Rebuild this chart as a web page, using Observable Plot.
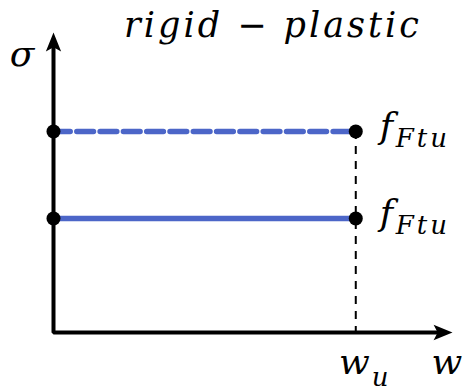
<!DOCTYPE html>
<html>
<head>
<meta charset="utf-8">
<script src="https://cdn.jsdelivr.net/npm/d3@7"></script>
<script src="https://cdn.jsdelivr.net/npm/@observablehq/plot@0.6"></script>
<style>
  html, body { margin: 0; padding: 0; background: #fff; }
</style>
</head>
<body>
<div id="chart"></div>
<script>
// Rigid-plastic constitutive law: stress σ against crack opening w.
// The stress stays at f_Ftu from w = 0 up to the ultimate opening w_u.
const wValues = [0, 1];            // w = 0 and w = w_u
const wU = 1;
const sigmaSolid = 1.14;           // f_Ftu (solid)
const sigmaDashed = 2.01;          // f_Ftu (dashed)
const xDomain = [0, 1.32];
const yDomain = [0, 3];
const mainLabel = "f";
const subLabel = "Ftu";
const titleText = "rigid \u2212 plastic";

const blue = "#4c66c8";
const mathFont = "DejaVu Serif";

const solid = wValues.map(w => ({w, s: sigmaSolid}));
const dashed = wValues.map(w => ({w, s: sigmaDashed}));
const points = [...dashed, ...solid];

// axis polyline (L-shape) ending just below each arrow tip
const axisPath = [
  {w: 0, s: yDomain[1] * 0.96},
  {w: 0, s: 0},
  {w: xDomain[1] * 0.97, s: 0}
];

// stealth-style arrowhead, tip at the origin, pointing up
const arrowHead = {
  draw(context, size) {
    const r = Math.sqrt(size / Math.PI);
    context.moveTo(0, 0);
    context.lineTo(0.85 * r, 2.1 * r);
    context.lineTo(0, 1.65 * r);
    context.lineTo(-0.85 * r, 2.1 * r);
    context.closePath();
  }
};

const chart = Plot.plot({
  width: 470,
  height: 390,
  marginLeft: 53,
  marginRight: 18,
  marginTop: 32,
  marginBottom: 58,
  x: {domain: xDomain, axis: null},
  y: {domain: yDomain, axis: null},
  style: {fontFamily: mathFont, letterSpacing: "3px", background: "#fff"},
  marks: [
    Plot.line(axisPath, {x: "w", y: "s", stroke: "black", strokeWidth: 4, strokeLinejoin: "miter", curve: "linear"}),
    Plot.dot([{w: 0, s: yDomain[1]}], {x: "w", y: "s", r: 9, symbol: arrowHead, fill: "black", stroke: "none"}),
    Plot.dot([{w: xDomain[1], s: 0}], {x: "w", y: "s", r: 9, symbol: arrowHead, rotate: 90, fill: "black", stroke: "none"}),
    Plot.ruleX([wU], {x: d => d, y1: sigmaDashed, y2: 0, stroke: "black", strokeWidth: 2, strokeDasharray: "8,7"}),
    Plot.line(dashed, {x: "w", y: "s", stroke: blue, strokeWidth: 5.5, strokeDasharray: "16.7,6.6"}),
    Plot.line(solid, {x: "w", y: "s", stroke: blue, strokeWidth: 5.5}),
    Plot.dot(points, {x: "w", y: "s", r: 7, fill: "black", stroke: "none"}),
    // f_Ftu labels at the right end of both lines
    Plot.text([sigmaDashed, sigmaSolid], {x: wU, y: d => d, text: () => mainLabel, dx: 24, dy: 6, textAnchor: "start", lineAnchor: "bottom", fontSize: 36, fontStyle: "italic"}),
    Plot.text([sigmaDashed, sigmaSolid], {x: wU, y: d => d, text: () => subLabel, dx: 40, dy: 15, textAnchor: "start", lineAnchor: "bottom", fontSize: 26, fontStyle: "italic"}),
    // axis labels
    Plot.text([{w: 0, s: yDomain[1]}], {x: "w", y: "s", text: () => "\u03c3", dx: -30, dy: 33, textAnchor: "middle", lineAnchor: "bottom", fontSize: 36, fontStyle: "italic"}),
    Plot.text([{w: xDomain[1], s: 0}], {x: "w", y: "s", text: () => "w", dx: -4, dy: 41, textAnchor: "middle", lineAnchor: "bottom", fontSize: 36, fontStyle: "italic"}),
    Plot.text([{w: wU, s: 0}], {x: "w", y: "s", text: () => "w", dx: 17, dy: 41, textAnchor: "end", lineAnchor: "bottom", fontSize: 36, fontStyle: "italic"}),
    Plot.text([{w: wU, s: 0}], {x: "w", y: "s", text: () => "u", dx: 16, dy: 53, textAnchor: "start", lineAnchor: "bottom", fontSize: 26, fontStyle: "italic"}),
    // title
    Plot.text([titleText], {frameAnchor: "top", text: d => d, dx: 20, dy: 4, textAnchor: "middle", lineAnchor: "bottom", fontSize: 35, fontStyle: "italic"})
  ]
});

document.getElementById("chart").appendChild(chart);
</script>
</body>
</html>
